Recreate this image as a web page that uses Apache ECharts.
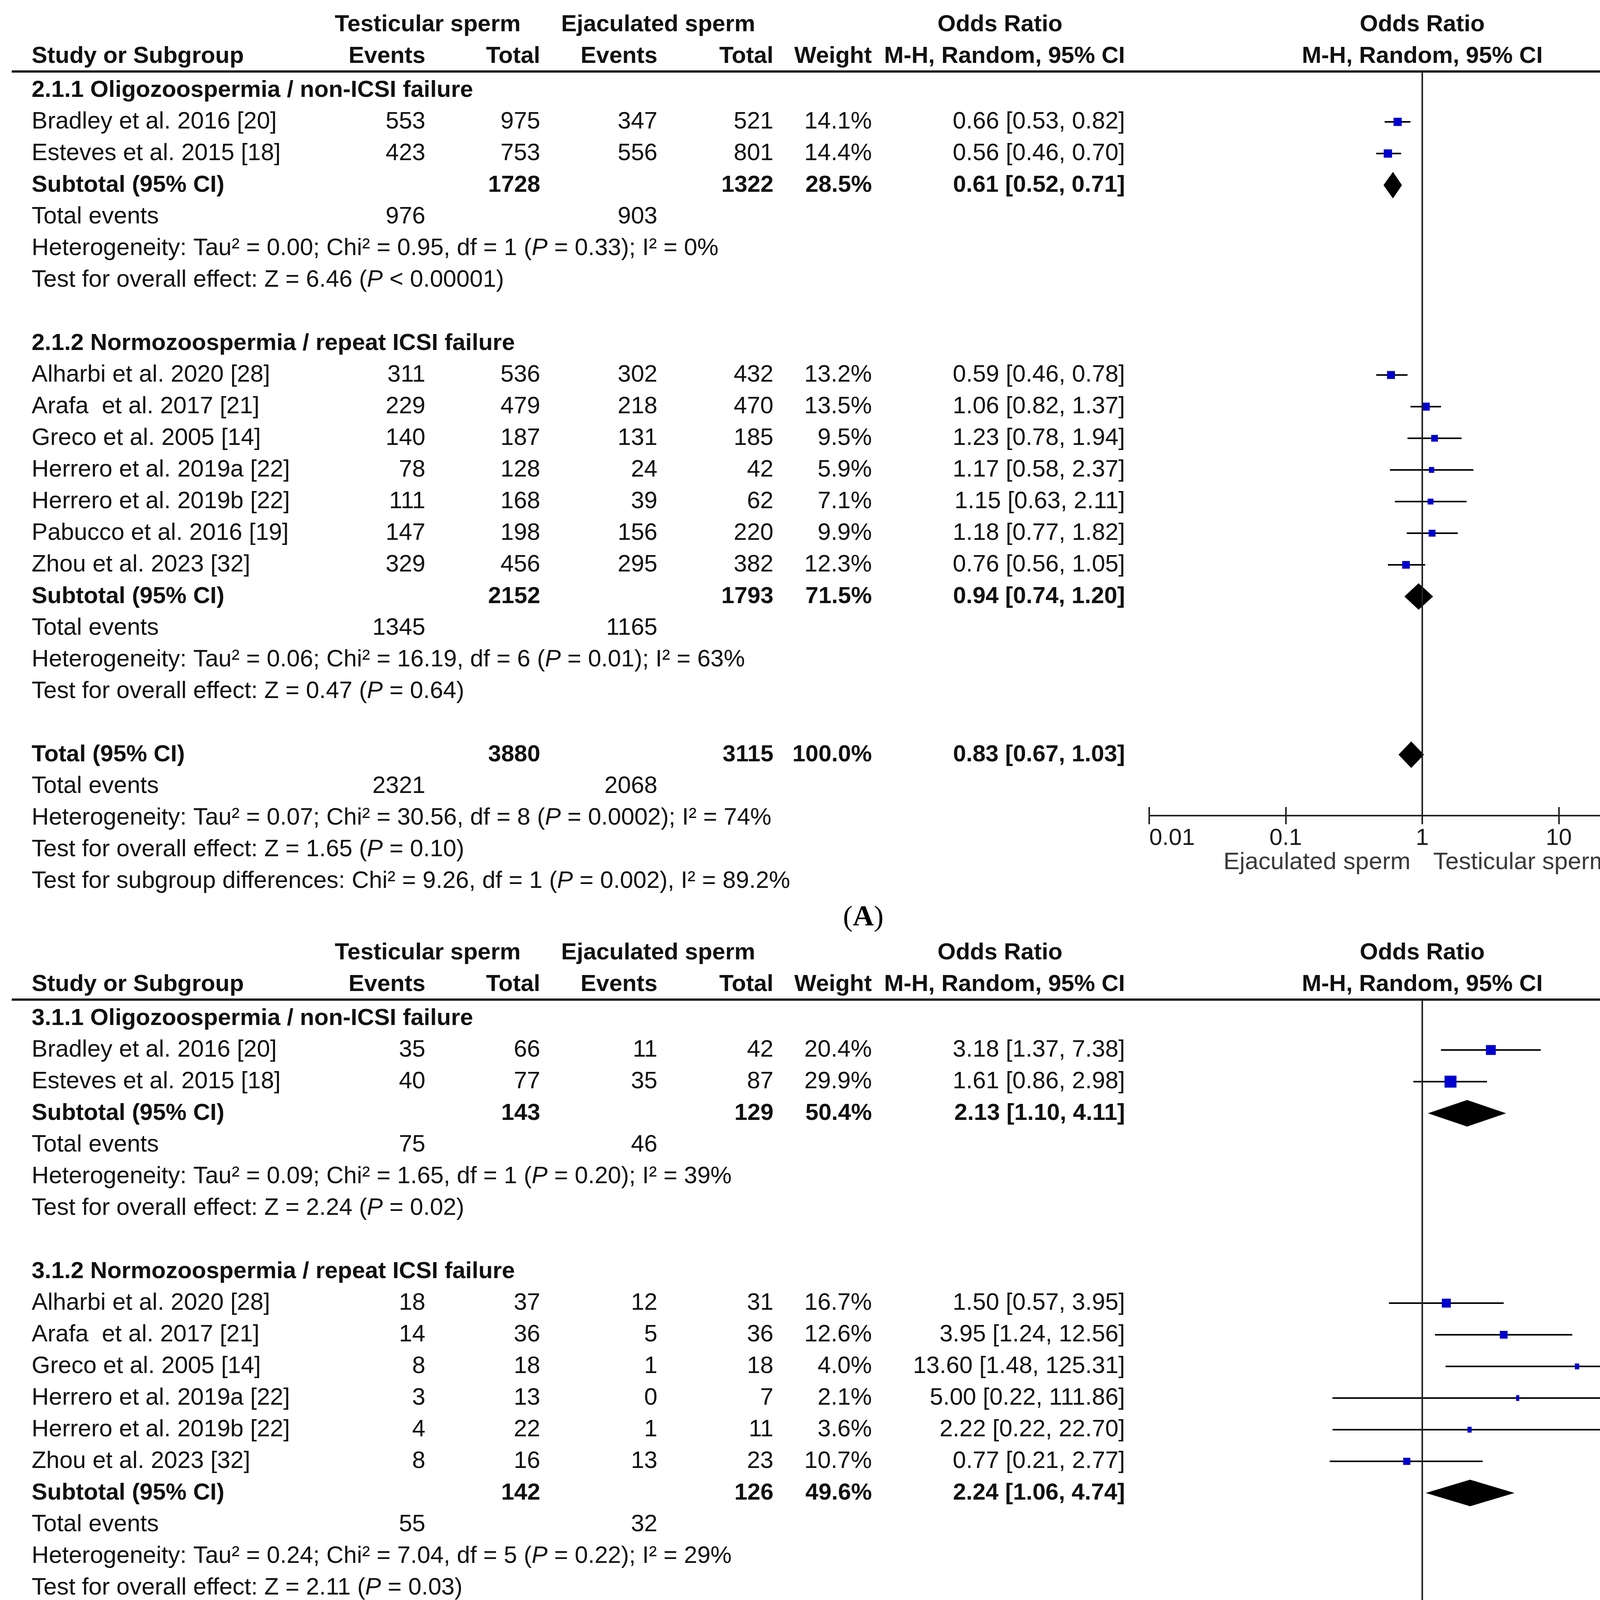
<!DOCTYPE html>
<html>
<head>
<meta charset="utf-8">
<script src="https://cdn.jsdelivr.net/npm/echarts@6/dist/echarts.min.js"></script>
<style>html,body{margin:0;padding:0;background:#fff}#c{width:4413px;height:4713px}</style>
</head>
<body>
<div id="c"></div>
<script>
// ===================== DATA =====================
const tickLabels = ['0.01', '0.1', '1', '10', '100'];
const groupHeads = ['Testicular sperm', 'Ejaculated sperm', 'Odds Ratio', 'Odds Ratio'];
const colHeads = ['Study or Subgroup', 'Events', 'Total', 'Events', 'Total', 'Weight', 'M-H, Random, 95% CI', 'M-H, Random, 95% CI'];
const sideLabels = ['Ejaculated sperm', 'Testicular sperm'];
const panelLabels = ['A', 'B'];

// ---- Panel A ----
const A1_title = '2.1.1 Oligozoospermia / non-ICSI failure';
const A1_study = ['Bradley et al. 2016 [20]', 'Esteves et al. 2015 [18]'];
const A1_tEvents = [553, 423];
const A1_tTotal = [975, 753];
const A1_eEvents = [347, 556];
const A1_eTotal = [521, 801];
const A1_weight = [14.1, 14.4];
const A1_or = [0.66, 0.56];
const A1_lo = [0.53, 0.46];
const A1_hi = [0.82, 0.70];
const A1_subtotal = [1728, 1322, 28.5, 0.61, 0.52, 0.71];
const A1_events = [976, 903];
const A1_notes = ['Heterogeneity: Tau² = 0.00; Chi² = 0.95, df = 1 (P = 0.33); I² = 0%',
                  'Test for overall effect: Z = 6.46 (P < 0.00001)'];

const A2_title = '2.1.2 Normozoospermia / repeat ICSI failure';
const A2_study = ['Alharbi et al. 2020 [28]', 'Arafa  et al. 2017 [21]', 'Greco et al. 2005 [14]',
                  'Herrero et al. 2019a [22]', 'Herrero et al. 2019b [22]', 'Pabucco et al. 2016 [19]', 'Zhou et al. 2023 [32]'];
const A2_tEvents = [311, 229, 140, 78, 111, 147, 329];
const A2_tTotal = [536, 479, 187, 128, 168, 198, 456];
const A2_eEvents = [302, 218, 131, 24, 39, 156, 295];
const A2_eTotal = [432, 470, 185, 42, 62, 220, 382];
const A2_weight = [13.2, 13.5, 9.5, 5.9, 7.1, 9.9, 12.3];
const A2_or = [0.59, 1.06, 1.23, 1.17, 1.15, 1.18, 0.76];
const A2_lo = [0.46, 0.82, 0.78, 0.58, 0.63, 0.77, 0.56];
const A2_hi = [0.78, 1.37, 1.94, 2.37, 2.11, 1.82, 1.05];
const A2_subtotal = [2152, 1793, 71.5, 0.94, 0.74, 1.20];
const A2_events = [1345, 1165];
const A2_notes = ['Heterogeneity: Tau² = 0.06; Chi² = 16.19, df = 6 (P = 0.01); I² = 63%',
                  'Test for overall effect: Z = 0.47 (P = 0.64)'];

const A_total = [3880, 3115, 100.0, 0.83, 0.67, 1.03];
const A_totalEvents = [2321, 2068];
const A_totalNotes = ['Heterogeneity: Tau² = 0.07; Chi² = 30.56, df = 8 (P = 0.0002); I² = 74%',
                      'Test for overall effect: Z = 1.65 (P = 0.10)',
                      'Test for subgroup differences: Chi² = 9.26, df = 1 (P = 0.002), I² = 89.2%'];

// ---- Panel B ----
const B1_title = '3.1.1 Oligozoospermia / non-ICSI failure';
const B1_study = ['Bradley et al. 2016 [20]', 'Esteves et al. 2015 [18]'];
const B1_tEvents = [35, 40];
const B1_tTotal = [66, 77];
const B1_eEvents = [11, 35];
const B1_eTotal = [42, 87];
const B1_weight = [20.4, 29.9];
const B1_or = [3.18, 1.61];
const B1_lo = [1.37, 0.86];
const B1_hi = [7.38, 2.98];
const B1_subtotal = [143, 129, 50.4, 2.13, 1.10, 4.11];
const B1_events = [75, 46];
const B1_notes = ['Heterogeneity: Tau² = 0.09; Chi² = 1.65, df = 1 (P = 0.20); I² = 39%',
                  'Test for overall effect: Z = 2.24 (P = 0.02)'];

const B2_title = '3.1.2 Normozoospermia / repeat ICSI failure';
const B2_study = ['Alharbi et al. 2020 [28]', 'Arafa  et al. 2017 [21]', 'Greco et al. 2005 [14]',
                  'Herrero et al. 2019a [22]', 'Herrero et al. 2019b [22]', 'Zhou et al. 2023 [32]'];
const B2_tEvents = [18, 14, 8, 3, 4, 8];
const B2_tTotal = [37, 36, 18, 13, 22, 16];
const B2_eEvents = [12, 5, 1, 0, 1, 13];
const B2_eTotal = [31, 36, 18, 7, 11, 23];
const B2_weight = [16.7, 12.6, 4.0, 2.1, 3.6, 10.7];
const B2_or = [1.50, 3.95, 13.60, 5.00, 2.22, 0.77];
const B2_lo = [0.57, 1.24, 1.48, 0.22, 0.22, 0.21];
const B2_hi = [3.95, 12.56, 125.31, 111.86, 22.70, 2.77];
const B2_subtotal = [142, 126, 49.6, 2.24, 1.06, 4.74];
const B2_events = [55, 32];
const B2_notes = ['Heterogeneity: Tau² = 0.24; Chi² = 7.04, df = 5 (P = 0.22); I² = 29%',
                  'Test for overall effect: Z = 2.11 (P = 0.03)'];

const B_total = [285, 255, 100.0, 2.13, 1.35, 3.36];
const B_totalEvents = [130, 78];
const B_totalNotes = ['Heterogeneity: Tau² = 0.08; Chi² = 8.67, df = 7 (P = 0.28); I² = 19%',
                      'Test for overall effect: Z = 3.25 (P = 0.001)',
                      'Test for subgroup differences: Chi² = 0.01, df = 1 (P = 0.92), I² = 0%'];

// ===================== LAYOUT =====================
const FONT = '"Liberation Sans", Arial, Helvetica, sans-serif';
const SERIF = '"Liberation Serif", "Times New Roman", serif';
const FS = 61, FSB = 60;
const TXT = '#111';
const ROW0 = 231, ROWH = 81;
const PANEL_TOP = [0, 2376];
const X_NAME = 81;
const COL_RIGHT = [1089, 1383, 1683, 1980, 2232, 2880];
const GROUP_CENTER = [1095, 1685, 2560];
const PLOT_L = 2942, PLOT_R = 4340;
const X_ONE = PLOT_L + (PLOT_R - PLOT_L) * 0.5;

function mkSub(title, study, tEv, tN, eEv, eN, w, or, lo, hi, subtotal, events, notes) {
  return { title, study, tEv, tN, eEv, eN, w, or, lo, hi, subtotal, events, notes };
}
const fmtW = v => v.toFixed(1) + '%';
const fmtCI = (o, l, h) => o.toFixed(2) + ' [' + l.toFixed(2) + ', ' + h.toFixed(2) + ']';

function buildRows(subs, total, totalEvents, totalNotes) {
  const rows = [];
  subs.forEach(s => {
    rows.push({ kind: 'title', text: s.title });
    s.study.forEach((n, i) => rows.push({
      kind: 'study',
      cells: [n, s.tEv[i], s.tN[i], s.eEv[i], s.eN[i], fmtW(s.w[i]), fmtCI(s.or[i], s.lo[i], s.hi[i])],
      f: [s.or[i], s.lo[i], s.hi[i], s.w[i]]
    }));
    const st = s.subtotal;
    rows.push({ kind: 'sum', cells: ['Subtotal (95% CI)', '', st[0], '', st[1], fmtW(st[2]), fmtCI(st[3], st[4], st[5])], f: [st[3], st[4], st[5], 0] });
    rows.push({ kind: 'events', cells: ['Total events', s.events[0], '', s.events[1], '', '', ''] });
    s.notes.forEach(t => rows.push({ kind: 'note', text: t }));
    rows.push({ kind: 'blank' });
  });
  rows.push({ kind: 'sum', cells: ['Total (95% CI)', '', total[0], '', total[1], fmtW(total[2]), fmtCI(total[3], total[4], total[5])], f: [total[3], total[4], total[5], 0] });
  rows.push({ kind: 'events', cells: ['Total events', totalEvents[0], '', totalEvents[1], '', '', ''] });
  totalNotes.forEach(t => rows.push({ kind: 'note', text: t }));
  return rows;
}

const panels = [
  buildRows([
    mkSub(A1_title, A1_study, A1_tEvents, A1_tTotal, A1_eEvents, A1_eTotal, A1_weight, A1_or, A1_lo, A1_hi, A1_subtotal, A1_events, A1_notes),
    mkSub(A2_title, A2_study, A2_tEvents, A2_tTotal, A2_eEvents, A2_eTotal, A2_weight, A2_or, A2_lo, A2_hi, A2_subtotal, A2_events, A2_notes)
  ], A_total, A_totalEvents, A_totalNotes),
  buildRows([
    mkSub(B1_title, B1_study, B1_tEvents, B1_tTotal, B1_eEvents, B1_eTotal, B1_weight, B1_or, B1_lo, B1_hi, B1_subtotal, B1_events, B1_notes),
    mkSub(B2_title, B2_study, B2_tEvents, B2_tTotal, B2_eEvents, B2_eTotal, B2_weight, B2_or, B2_lo, B2_hi, B2_subtotal, B2_events, B2_notes)
  ], B_total, B_totalEvents, B_totalNotes)
];

// ===================== TEXT HELPERS =====================
function rich(bold) {
  return { i: { fontStyle: 'italic', fontWeight: bold ? 'bold' : 'normal', fontSize: bold ? FSB : FS, fontFamily: FONT, fill: TXT } };
}
function txt(x, y, text, align, bold, extra) {
  const st = Object.assign({
    text: String(text).replace(/\(P /g, '({i|P} '),
    fill: TXT, fontSize: bold ? FSB : FS, fontFamily: FONT, fontWeight: bold ? 'bold' : 'normal',
    textAlign: align || 'left', textVerticalAlign: 'middle',
    align: align || 'left', verticalAlign: 'middle',
    rich: rich(bold)
  }, extra || {});
  return { type: 'text', x: x, y: y, silent: true, style: st };
}

const elements = [];
const grids = [], xAxes = [], yAxes = [], series = [];

panels.forEach((rows, pi) => {
  const top = PANEL_TOP[pi];
  const rowY = i => top + ROW0 + ROWH * i;
  elements.push(txt(GROUP_CENTER[0], top + 63, groupHeads[0], 'center', true));
  elements.push(txt(GROUP_CENTER[1], top + 63, groupHeads[1], 'center', true));
  elements.push(txt(GROUP_CENTER[2], top + 63, groupHeads[2], 'center', true));
  elements.push(txt(X_ONE, top + 63, groupHeads[3], 'center', true));
  elements.push(txt(X_NAME, top + 144, colHeads[0], 'left', true));
  for (let c = 0; c < 6; c++) elements.push(txt(COL_RIGHT[c], top + 144, colHeads[c + 1], 'right', true));
  elements.push(txt(X_ONE, top + 144, colHeads[7], 'center', true));
  elements.push({ type: 'line', silent: true, shape: { x1: 30, y1: top + 183, x2: 4386, y2: top + 183 }, style: { stroke: '#222', lineWidth: 6 } });

  const forest = [];
  let eventsRowIdx = 0;
  rows.forEach((r, i) => {
    const y = rowY(i);
    if (r.kind === 'title') elements.push(txt(X_NAME, y, r.text, 'left', true));
    else if (r.kind === 'note') elements.push(txt(X_NAME, y, r.text, 'left', false));
    else if (r.cells) {
      const bold = r.kind === 'sum';
      elements.push(txt(X_NAME, y, r.cells[0], 'left', bold));
      for (let c = 1; c < 7; c++) {
        if (r.cells[c] !== '') elements.push(txt(COL_RIGHT[c - 1], y, r.cells[c], 'right', bold));
      }
      if (r.kind === 'events') eventsRowIdx = i;
      if (r.f) forest.push([i, r.f[0], r.f[1], r.f[2], r.f[3], r.kind === 'sum' ? 1 : 0]);
    }
  });

  const gridTop = top + 183;
  const axisY = rowY(eventsRowIdx) + 75;
  grids.push({ left: PLOT_L, width: PLOT_R - PLOT_L, top: gridTop, height: axisY - gridTop, containLabel: false, outerBoundsMode: 'none' });

  const mkX = main => ({
    type: 'log', logBase: 10, gridIndex: pi, min: 0.01, max: 100, position: 'bottom',
    axisLine: { show: true, onZero: false, lineStyle: { color: '#222', width: 4 } },
    axisTick: { show: true, inside: !main, length: 22, lineStyle: { color: '#222', width: 4 } },
    axisLabel: {
      show: main, margin: 28, fontSize: 60, fontFamily: FONT, color: '#1a1a1a',
      showMinLabel: true, showMaxLabel: true, alignMinLabel: 'left', alignMaxLabel: 'right',
      formatter: v => tickLabels[Math.round(Math.log10(v)) + 2]
    },
    splitLine: { show: false }, minorTick: { show: false }, minorSplitLine: { show: false }
  });
  xAxes.push(mkX(true));
  xAxes.push(mkX(false));
  yAxes.push({
    type: 'value', gridIndex: pi, inverse: true,
    min: (gridTop - top - ROW0) / ROWH, max: (axisY - top - ROW0) / ROWH,
    show: false, splitLine: { show: false }
  });

  series.push({
    type: 'custom', xAxisIndex: pi * 2, yAxisIndex: pi, clip: false, silent: true,
    encode: { x: 1, y: 0 },
    data: forest,
    renderItem: function (params, api) {
      const row = api.value(0), or = api.value(1), lo = api.value(2), hi = api.value(3), w = api.value(4), kind = api.value(5);
      const yPix = api.coord([1, row])[1];
      if (kind === 1) {
        const xl = api.coord([lo, row])[0], xc = api.coord([or, row])[0], xr = api.coord([hi, row])[0];
        return { type: 'polygon', shape: { points: [[xl, yPix], [xc, yPix - 34], [xr, yPix], [xc, yPix + 34]] }, style: { fill: '#000' } };
      }
      const clipHi = Math.min(hi, 100), clipLo = Math.max(lo, 0.01);
      const x0 = api.coord([clipLo, row])[0], x1 = api.coord([clipHi, row])[0], xc = api.coord([or, row])[0];
      const children = [];
      const arrow = hi > 100;
      children.push({ type: 'line', shape: { x1: x0, y1: yPix, x2: arrow ? x1 - 12 : x1, y2: yPix }, style: { stroke: '#000', lineWidth: 4 } });
      if (arrow) children.push({ type: 'polygon', shape: { points: [[x1, yPix], [x1 - 26, yPix - 18], [x1 - 26, yPix + 18]] }, style: { fill: '#000' } });
      const s = 5.6 * Math.sqrt(w), h = Math.max(s, 15);
      children.push({ type: 'rect', shape: { x: xc - s / 2, y: yPix - h / 2, width: s, height: h }, style: { fill: '#0000cc' } });
      return { type: 'group', children: children };
    },
    markLine: {
      silent: true, symbol: ['none', 'none'], label: { show: false },
      lineStyle: { color: '#222', width: 4, type: 'solid' },
      data: [{ xAxis: 1 }]
    }
  });

  elements.push(txt(X_ONE - 30, axisY + 120, sideLabels[0], 'right', false, { fontSize: 62, fill: '#3a3a3a' }));
  elements.push(txt(X_ONE + 28, axisY + 120, sideLabels[1], 'left', false, { fontSize: 62, fill: '#3a3a3a' }));

  elements.push({
    type: 'text', x: 2210, y: axisY + 262, silent: true,
    style: {
      text: '({b|' + panelLabels[pi] + '})', fill: '#000', fontSize: 75, fontFamily: SERIF,
      textAlign: 'center', textVerticalAlign: 'middle', align: 'center', verticalAlign: 'middle',
      rich: { b: { fontSize: 75, fontFamily: SERIF, fontWeight: 'bold', fill: '#000' } }
    }
  });
});

const chart = echarts.init(document.getElementById('c'), null, { renderer: 'canvas' });
chart.setOption({
  animation: false,
  backgroundColor: '#ffffff',
  grid: grids,
  xAxis: xAxes,
  yAxis: yAxes,
  series: series,
  graphic: { elements: elements }
});
</script>
</body>
</html>
